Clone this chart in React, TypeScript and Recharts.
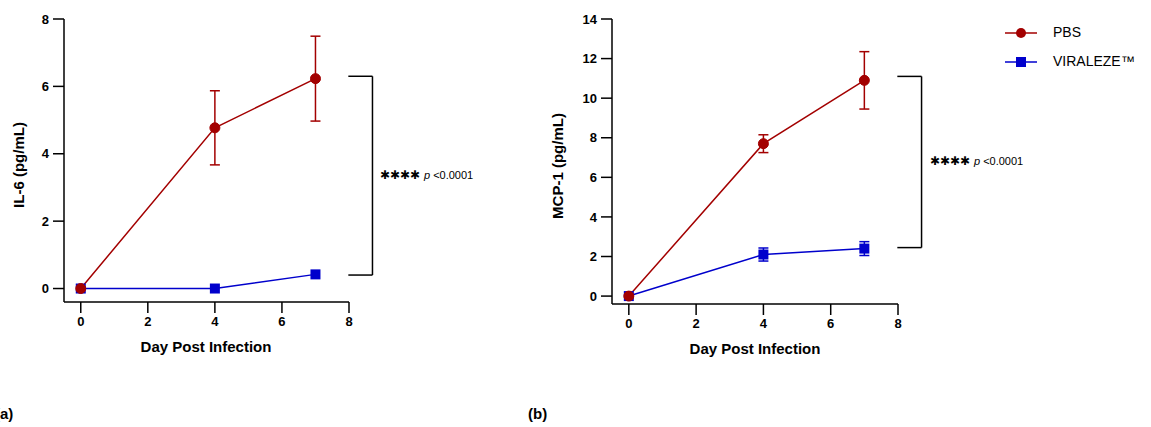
import { CartesianGrid, ErrorBar, Line, LineChart, ReferenceLine, XAxis, YAxis } from "recharts";

const days = [0, 4, 7];
const il6Pbs = [0, 4.77, 6.23];
const il6PbsErr = [0, 1.1, 1.26];
const il6Vir = [0, 0, 0.42];
const mcpPbs = [0, 7.7, 10.9];
const mcpPbsErr = [0, 0.45, 1.45];
const mcpVir = [0, 2.1, 2.4];
const mcpVirErr = [0, 0.33, 0.35];

const xTicks = [0, 2, 4, 6, 8];
const il6Ticks = [0, 2, 4, 6, 8];
const mcpTicks = [0, 2, 4, 6, 8, 10, 12, 14];

// bracket ends, in data units
const il6Bracket = { top: 6.3, bottom: 0.4 };
const mcpBracket = { top: 11.1, bottom: 2.45 };

const RED = "#a30000";
const BLUE = "#0000cc";
const FONT = "'Liberation Sans', Arial, sans-serif";

const il6Data = days.map((d, i) => ({ day: d, pbs: il6Pbs[i], pbsErr: il6PbsErr[i], vir: il6Vir[i] }));
const mcpData = days.map((d, i) => ({ day: d, pbs: mcpPbs[i], pbsErr: mcpPbsErr[i], vir: mcpVir[i], virErr: mcpVirErr[i] }));

const tick = { fontSize: 13, fontWeight: "bold", fill: "#000", fontFamily: FONT };
const axisLine = { stroke: "#000", strokeWidth: 1.5 };

const squareDot = (props: any) => (
  <rect key={`sq-${props.index}`} x={props.cx - 5} y={props.cy - 5} width={10} height={10} fill={BLUE} />
);

const Bracket = ({ x1, x2, top, bottom }: { x1: number; x2: number; top: number; bottom: number }) => [
  <ReferenceLine key="t" segment={[{ x: x1, y: top }, { x: x2, y: top }]} stroke="#000" strokeWidth={1.5} ifOverflow="visible" />,
  <ReferenceLine key="v" segment={[{ x: x2, y: top }, { x: x2, y: bottom }]} stroke="#000" strokeWidth={1.5} ifOverflow="visible" />,
  <ReferenceLine key="b" segment={[{ x: x1, y: bottom }, { x: x2, y: bottom }]} stroke="#000" strokeWidth={1.5} ifOverflow="visible" />,
];

const Panel = ({ data, yTicks, yMax, bracket, hasVirErr, margin, width }: any) => (
  <LineChart width={width} height={380} data={data} margin={margin} style={{ fontFamily: FONT }}>
    <CartesianGrid stroke="none" />
    <XAxis
      dataKey="day"
      type="number"
      domain={[-0.5, 8]}
      ticks={xTicks}
      height={30}
      tick={tick}
      tickSize={11}
      tickMargin={4}
      axisLine={axisLine}
      tickLine={axisLine}
      allowDataOverflow
    />
    <YAxis
      type="number"
      domain={[-0.4, yMax]}
      ticks={yTicks}
      width={30}
      tick={tick}
      tickSize={11}
      tickMargin={4}
      axisLine={axisLine}
      tickLine={axisLine}
      allowDataOverflow
    />
    {Bracket({ x1: 7.98, x2: 8.7, top: bracket.top, bottom: bracket.bottom })}
    <Line dataKey="vir" stroke={BLUE} strokeWidth={1.5} dot={squareDot} activeDot={false} isAnimationActive={false}>
      {hasVirErr && <ErrorBar dataKey="virErr" direction="y" width={5} stroke={BLUE} strokeWidth={1.5} isAnimationActive={false} />}
    </Line>
    <Line dataKey="pbs" stroke={RED} strokeWidth={1.5} dot={{ r: 5, fill: RED, stroke: RED, strokeWidth: 1 }} activeDot={false} isAnimationActive={false}>
      <ErrorBar dataKey="pbsErr" direction="y" width={5} stroke={RED} strokeWidth={1.5} isAnimationActive={false} />
    </Line>
  </LineChart>
);

const Stat = ({ x, y }: { x: number; y: number }) => (
  <text x={x} y={y} dominantBaseline="middle" fontFamily={FONT} fontSize={11} fill="#000">
    <tspan fontSize={11.5}>✱✱✱✱</tspan>
    <tspan dx={4} fontStyle="italic">p</tspan>
    <tspan dx={3}>&lt;0.0001</tspan>
  </text>
);

export default function App() {
  return (
    <div style={{ position: "absolute", left: 0, top: 0, width: 1151, height: 427, background: "#fff", overflow: "hidden" }}>
      <div style={{ position: "absolute", left: 0, top: 0 }}>
        <Panel data={il6Data} yTicks={il6Ticks} yMax={8} bracket={il6Bracket} hasVirErr={false} width={540} margin={{ top: 19, right: 191, bottom: 48, left: 34 }} />
      </div>
      <div style={{ position: "absolute", left: 540, top: 0 }}>
        <Panel data={mcpData} yTicks={mcpTicks} yMax={14} bracket={mcpBracket} hasVirErr width={400} margin={{ top: 19, right: 42, bottom: 46, left: 42 }} />
      </div>
      <svg width={1151} height={427} style={{ position: "absolute", left: 0, top: 0, pointerEvents: "none" }} fontFamily={FONT}>
        <text x={206} y={348} textAnchor="middle" dominantBaseline="middle" fontSize={15} fontWeight="bold">Day Post Infection</text>
        <text x={755} y={350} textAnchor="middle" dominantBaseline="middle" fontSize={15} fontWeight="bold">Day Post Infection</text>
        <text transform="translate(20,165) rotate(-90)" textAnchor="middle" dominantBaseline="middle" fontSize={15} fontWeight="bold">IL-6 (pg/mL)</text>
        <text transform="translate(559,166) rotate(-90)" textAnchor="middle" dominantBaseline="middle" fontSize={15} fontWeight="bold">MCP-1 (pg/mL)</text>
        <Stat x={380} y={176} />
        <Stat x={930} y={162} />
        <line x1={1005} x2={1037} y1={33} y2={33} stroke={RED} strokeWidth={1.5} />
        <circle cx={1021} cy={33} r={5} fill={RED} />
        <text x={1053} y={33} dominantBaseline="middle" fontSize={14}>PBS</text>
        <line x1={1005} x2={1037} y1={62} y2={62} stroke={BLUE} strokeWidth={1.5} />
        <rect x={1016} y={57} width={10} height={10} fill={BLUE} />
        <text x={1053} y={62} dominantBaseline="middle" fontSize={14}>VIRALEZE™</text>
        <text x={-5} y={415} dominantBaseline="middle" fontSize={15} fontWeight="bold">(a)</text>
        <text x={528} y={415} dominantBaseline="middle" fontSize={15} fontWeight="bold">(b)</text>
      </svg>
    </div>
  );
}
